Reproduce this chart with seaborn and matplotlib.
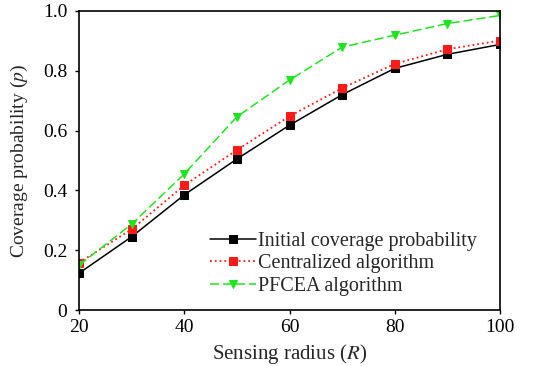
import matplotlib
matplotlib.use("Agg")
import matplotlib.pyplot as plt
import seaborn as sns
import pandas as pd

radius = [20, 30, 40, 50, 60, 70, 80, 90, 100]
initial = [0.123, 0.245, 0.385, 0.505, 0.618, 0.720, 0.808, 0.855, 0.888]
centralized = [0.158, 0.270, 0.417, 0.535, 0.648, 0.742, 0.823, 0.872, 0.901]
pfcea = [0.150, 0.287, 0.455, 0.646, 0.769, 0.879, 0.919, 0.958, 0.985]

labels = ["Initial coverage probability", "Centralized algorithm", "PFCEA algorithm"]
xticks = [20, 40, 60, 80, 100]
yticks = [0, 0.2, 0.4, 0.6, 0.8, 1.0]
yticklabels = ["0", "0.2", "0.4", "0.6", "0.8", "1.0"]

sns.set_theme(style="white")
plt.rcParams['font.family'] = ['Liberation Serif', 'DejaVu Serif']
plt.rcParams['mathtext.fontset'] = 'stix'

fig = plt.figure(figsize=(5.42, 3.66), dpi=100)
ax = fig.add_axes([0.1458, 0.153, 0.7767, 0.817])

styles = [
    (initial, "black", "s", "-", 1.1, None),
    (centralized, "#ff1a1a", "s", ":", 1.3, None),
    (pfcea, "#1ee61e", "v", "--", 1.1, (6, 2.5)),
]
for (vals, col, mk, ls, lw, dash), lab in zip(styles, labels):
    df = pd.DataFrame({"R": radius, "p": vals})
    sns.lineplot(data=df, x="R", y="p", ax=ax, color=col, marker=mk, linestyle=ls,
                 linewidth=lw, markersize=5.5, markeredgecolor=col, label=lab)
    if dash is not None:
        ax.get_lines()[-1].set_dashes(dash)

ax.set_xlim(20, 100)
ax.set_ylim(0, 1.0)
ax.set_xticks(xticks)
ax.set_xticklabels([str(v) for v in xticks])
ax.set_yticks(yticks)
ax.set_yticklabels(yticklabels)
ax.tick_params(axis='x', direction='out', length=3, width=1, labelsize=14, pad=3.5,
               colors='black', bottom=True)
ax.tick_params(axis='y', direction='out', length=3, width=1, labelsize=14, pad=5.5,
               colors='black', left=True)
for s in ax.spines.values():
    s.set_color('black')
    s.set_linewidth(1.2)
    s.set_visible(True)

ax.set_xlabel("Sensing radius ($R$)", fontsize=15, labelpad=4.5)
ax.set_ylabel("Coverage probability ($p$)", fontsize=14, labelpad=9)

leg = ax.legend(loc="upper left", bbox_to_anchor=(0.311, 0.26), frameon=False,
                fontsize=14.5, handlelength=2.3, handletextpad=0.1, labelspacing=0.15,
                borderaxespad=0, borderpad=0)
for h in leg.get_lines():
    h.set_markersize(5.5)

fig.savefig("out.png", dpi=100)
